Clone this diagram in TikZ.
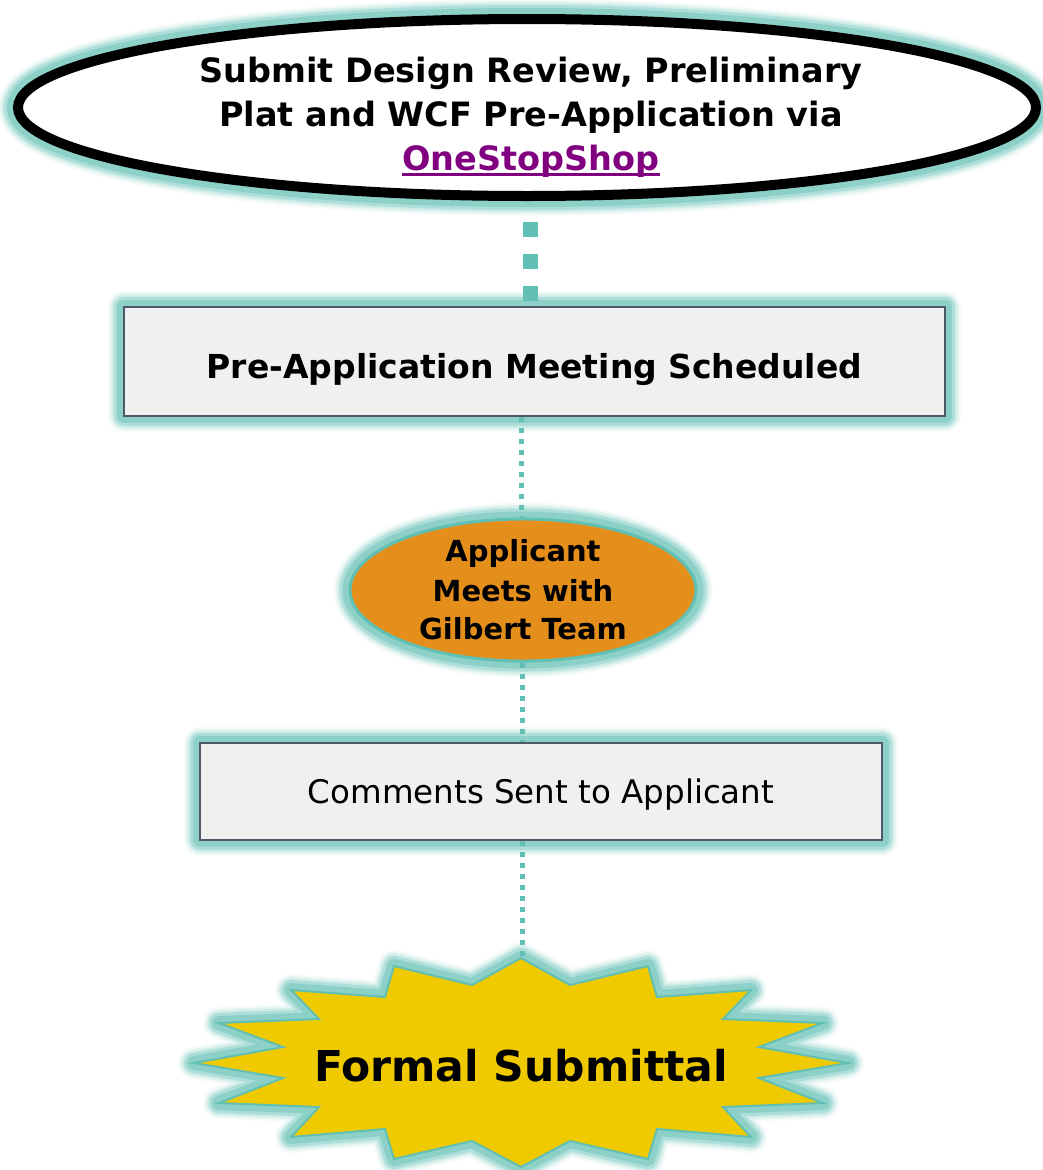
\documentclass[tikz,border=0pt]{standalone}
\usepackage{fontspec}
\setmainfont{DejaVu Sans}
\usetikzlibrary{shapes.geometric}
\definecolor{glowc}{HTML}{86CEC5}
\definecolor{tealc}{HTML}{62BFB3}
\definecolor{boxfill}{HTML}{F0F0F0}
\definecolor{boxline}{HTML}{4F5866}
\definecolor{orangec}{HTML}{E48E1C}
\definecolor{starc}{HTML}{F0CA00}
\definecolor{linkc}{HTML}{800080}
\newcommand\thickul[1]{\setbox0\hbox{#1}\rlap{\rule[-6pt]{\wd0}{3pt}}\box0}
\tikzset{
  glow/.style={
    preaction={draw=glowc,line width=#1+30pt,draw opacity=0.08,line join=round},
    preaction={draw=glowc,line width=#1+26pt,draw opacity=0.15,line join=round},
    preaction={draw=glowc,line width=#1+22pt,draw opacity=0.25,line join=round},
    preaction={draw=glowc,line width=#1+18pt,draw opacity=0.45,line join=round},
    preaction={draw=glowc,line width=#1+12pt,draw opacity=0.85,line join=round}},
  boxnode/.style={rectangle,draw=boxline,line width=2pt,fill=boxfill,glow=2pt,inner sep=0pt},
  bigdots/.style={draw=tealc,line width=15pt,dash pattern=on 15pt off 17pt},
  smalldots/.style={draw=tealc,line width=5pt,dash pattern=on 5pt off 6pt},
}
\begin{document}
\begin{tikzpicture}[x={(1pt,0)},y={(0,-1pt)}]
\useasboundingbox (0,0) rectangle (1042,1170);

% top ellipse
\node[ellipse,draw=black,line width=10pt,fill=white,glow=10pt,
      minimum width=1018pt,minimum height=177pt,inner sep=0pt] (e1) at (527,107.5) {};
\node[align=center,font=\bfseries\fontsize{33.5}{44}\selectfont] (e1text) at (531,117)
  {Submit Design Review, Preliminary\\Plat and WCF Pre-Application via\\{\color{linkc}\thickul{OneStopShop}}};

% box 1
\node[boxnode,minimum width=821pt,minimum height=109pt,
      font=\bfseries\fontsize{33}{40}\selectfont] (b1) at (534.5,361.5)
  {\raisebox{-16.5pt}[0pt][0pt]{Pre-Application Meeting Scheduled}};

% orange ellipse
\node[ellipse,draw=tealc,line width=3pt,fill=orangec,glow=3pt,
      minimum width=346pt,minimum height=134pt,inner sep=0pt,align=center,
      font=\bfseries\fontsize{29}{38}\selectfont] (e2) at (523,590)
  {\raisebox{2pt}{Applicant}\\Meets with\\Gilbert Team};

% box 2
\node[boxnode,minimum width=682pt,minimum height=97pt,
      font=\fontsize{32.5}{36}\selectfont] (b2) at (541,791.5)
  {\raisebox{-11.5pt}[0pt][0pt]{Comments Sent to Applicant}};

% star
\path[draw=tealc,line width=2pt,fill=starc,glow=2pt,line join=miter]
  (521,958) -- (570,985) -- (648,966) -- (657,997) -- (751,990) -- (723,1019)
  -- (823,1023) -- (759,1047) -- (848,1063) -- (759,1078) -- (823,1103)
  -- (723,1107) -- (751,1137) -- (657,1129) -- (648,1159) -- (570,1141)
  -- (521,1167) -- (472,1141) -- (394,1159) -- (385,1129) -- (291,1137)
  -- (319,1107) -- (219,1103) -- (283,1078) -- (194,1063) -- (283,1047)
  -- (219,1023) -- (319,1019) -- (291,990) -- (385,997) -- (394,966)
  -- (472,985) -- cycle;
\coordinate (startop) at (522,958);
\node[font=\bfseries\fontsize{42.5}{50}\selectfont] (s) at (521,1066) {Formal Submittal};

% connectors
\draw[bigdots,shorten <=17pt,dash phase=28pt] ([xshift=3pt]e1.south) -- ([xshift=3pt]e1.south |- b1.north);
\draw[smalldots] ([xshift=-2pt]e2.north |- b1.south) -- ([xshift=-2pt]e2.north);
\draw[smalldots] ([xshift=-1pt]e2.south) -- ([xshift=-1pt]e2.south |- b2.north);
\draw[smalldots] (b2.south -| startop) -- (startop);
\end{tikzpicture}
\end{document}
